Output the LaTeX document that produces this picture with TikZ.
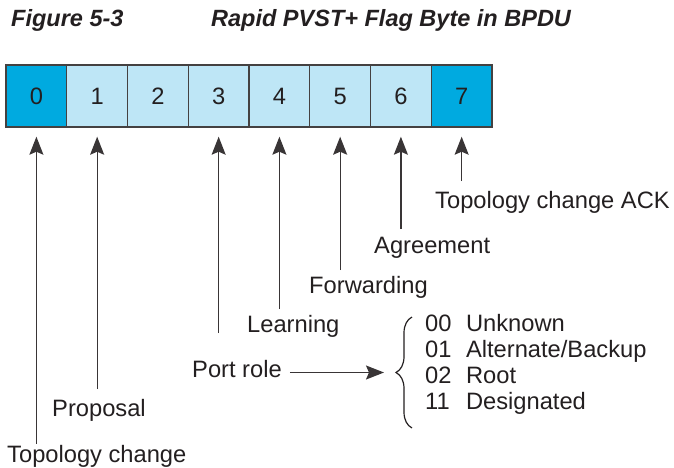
\documentclass[tikz,border=0pt]{standalone}
\usepackage{fontspec}
\setmainfont{Liberation Sans}
\usetikzlibrary{positioning, arrows.meta, decorations.pathreplacing}
\definecolor{bitdark}{RGB}{0,170,224}
\definecolor{bitlight}{RGB}{190,230,246}
\definecolor{ink}{RGB}{35,31,32}

\begin{document}
\begin{tikzpicture}[x=1pt,y=1pt,node distance=60.75pt,on grid,
    bit/.style={draw=ink!85,line width=1.4pt,fill=bitlight,minimum width=60.75pt,minimum height=62pt,inner sep=0pt,text=ink,font=\fontsize{23.7}{27}\selectfont},
    flagbit/.style={bit,fill=bitdark},
    lbl/.style={anchor=base west,inner sep=0pt,text=ink,font=\fontsize{23.7}{27}\selectfont},
    ptr/.style={-{Stealth[length=18pt,width=14pt,inset=3pt]},line width=1.3pt,draw=ink!90,shorten >=9pt}]
  \useasboundingbox (0,0) rectangle (674,-467);
  % title
  \node[lbl,font=\fontsize{23.5}{27}\selectfont\bfseries\itshape] (fig) at (11,-26) {Figure 5-3};
  \node[lbl,font=\fontsize{23.5}{27}\selectfont\bfseries\itshape] (title) at (211,-26) {Rapid PVST+ Flag Byte in BPDU};

  % the flag byte
  \node[flagbit] (b0) at (36.4,-96) {0};
  \foreach \i/\j in {1/0,2/1,3/2,4/3,5/4,6/5}
    \node[bit] (b\i) [right=of b\j] {\i};
  \node[flagbit] (b7) [right=of b6] {7};

  % bit names
  \node[lbl] (tcack) at (435,-208) {Topology change ACK};
  \node[lbl] (agree) at (374,-253) {Agreement};
  \node[lbl] (fwd) at (309,-293) {Forwarding};
  \node[lbl] (learn) at (247,-332) {Learning};
  \node[lbl] (prole) at (192,-377) {Port role};
  \node[lbl] (prop) at (52,-416) {Proposal};
  \node[lbl] (tc) at (7,-462) {Topology change};

  \draw[ptr,shorten <=1pt] (tc.north -| b0.south) -- (b0.south);
  \draw[ptr,shorten <=9.5pt] (prop.north -| b1.south) -- (b1.south);
  \draw[ptr,shorten <=26.5pt] (prole.north -| b3.south) -- (b3.south);
  \draw[ptr,shorten <=5.5pt] (learn.north -| b4.south) -- (b4.south);
  \draw[ptr,shorten <=5.5pt] (fwd.north -| b5.south) -- (b5.south);
  \draw[ptr,shorten <=7.5pt] (agree.north -| b6.south) -- (b6.south);
  \draw[ptr,shorten <=9.5pt] (tcack.north -| b7.south) -- (b7.south);

  % port role values
  \node[lbl,anchor=north west] (roles) at (425,-312.4) {\fontsize{23.7}{26.3}\selectfont
    \begin{tabular}{@{}l@{\hspace{14.5pt}}l@{}}
      00 & Unknown\\
      01 & Alternate/Backup\\
      02 & Root\\
      11 & Designated
    \end{tabular}};
  \coordinate (brtop) at (412,-317);
  \coordinate (brbot) at (412,-428);
  \coordinate (brtip) at (396,-372.5);
  \draw[decorate,decoration={brace,amplitude=16pt},line width=1.2pt,ink] (brbot) -- (brtop);
  \draw[ptr,shorten >=12pt,shorten <=8pt] (prole.east |- brtip) -- (brtip);
\end{tikzpicture}
\end{document}
